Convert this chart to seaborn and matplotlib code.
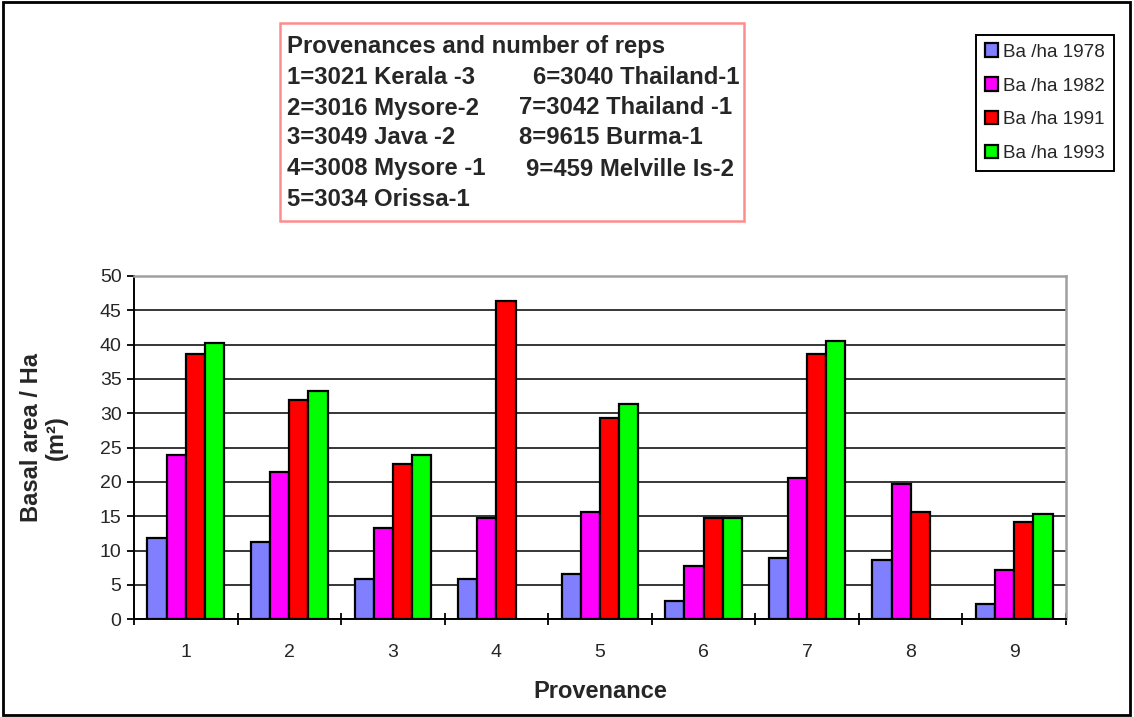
import matplotlib
matplotlib.use("Agg")
import matplotlib.pyplot as plt
from matplotlib.patches import Rectangle
from matplotlib.ticker import FixedLocator, MultipleLocator
import numpy as np
import pandas as pd
import seaborn as sns

# data
provenances = ["1", "2", "3", "4", "5", "6", "7", "8", "9"]
series_names = ["Ba /ha 1978", "Ba /ha 1982", "Ba /ha 1991", "Ba /ha 1993"]
ba_1978 = [11.9, 11.2, 5.8, 5.8, 6.6, 2.6, 9.0, 8.7, 2.3]
ba_1982 = [24.0, 21.4, 13.3, 14.7, 15.6, 7.8, 20.6, 19.7, 7.2]
ba_1991 = [38.6, 31.9, 22.6, 46.4, 29.3, 14.7, 38.6, 15.6, 14.2]
ba_1993 = [40.3, 33.3, 24.0, np.nan, 31.3, 14.7, 40.6, np.nan, 15.3]
colors = ["#8080FF", "#FF00FF", "#FF0000", "#00FF00"]

box_title = "Provenances and number of reps"
left_col = ["1=3021 Kerala -3", "2=3016 Mysore-2", "3=3049 Java -2",
            "4=3008 Mysore -1", "5=3034 Orissa-1"]
right_col = ["6=3040 Thailand-1", "7=3042 Thailand -1", "8=9615 Burma-1",
             "9=459 Melville Is-2"]

df = pd.DataFrame({
    "Provenance": provenances * 4,
    "series": np.repeat(series_names, len(provenances)),
    "value": ba_1978 + ba_1982 + ba_1991 + ba_1993,
})

sns.set_style("white")
plt.rcParams["font.family"] = ["Liberation Sans", "DejaVu Sans"]

W, H = 1134, 717
fig = plt.figure(figsize=(W / 100, H / 100), dpi=100)
ax = fig.add_axes([134 / W, 1 - 619.3 / H, 932 / W, 343.3 / H])

sns.barplot(data=df, x="Provenance", y="value", hue="series",
            palette=colors, width=0.74, gap=0, edgecolor="black",
            linewidth=1.6, saturation=1, errorbar=None, ax=ax, zorder=3)

ax.set_ylim(0, 50)
ax.set_xlim(-0.5, 8.5)
ax.yaxis.set_major_locator(MultipleLocator(5))
ax.grid(axis="y", color="black", linewidth=1.1, zorder=0)
ax.grid(axis="x", visible=False)
ax.set_axisbelow(True)

for side in ["left", "bottom"]:
    ax.spines[side].set_color("black")
    ax.spines[side].set_linewidth(1.4)
for side in ["top", "right"]:
    ax.spines[side].set_color("#A0A0A0")
    ax.spines[side].set_linewidth(1.8)

ax.tick_params(axis="y", direction="out", length=5, width=1.3,
               color="black", labelsize=14, pad=4, left=True)
ax.tick_params(axis="x", which="major", length=0, labelsize=14, pad=18)
ax.xaxis.set_minor_locator(FixedLocator(np.arange(-0.5, 9.0, 1.0)))
ax.tick_params(axis="x", which="minor", direction="inout", length=9,
               width=1.3, color="black", bottom=True)

ax.set_xlabel("Provenance", fontsize=17, fontweight="bold")
ax.xaxis.set_label_coords(0.5, -0.176)
ax.set_ylabel("Basal area / Ha\n(m²)", fontsize=17, fontweight="bold",
              linespacing=1.1)
ax.yaxis.set_label_coords(-0.071, 0.53)

handles, labels = ax.get_legend_handles_labels()
ax.legend(handles, labels, loc="upper left",
          bbox_to_anchor=(976 / W, 1 - 35 / H), bbox_transform=fig.transFigure,
          fontsize=13.6, frameon=True, fancybox=False, edgecolor="black",
          framealpha=1, handlelength=0.7, handleheight=0.7,
          handletextpad=0.3, labelspacing=0.88, borderpad=0.45,
          borderaxespad=0)
ax.get_legend().get_frame().set_linewidth(1.4)

# text box with provenance key
fig.add_artist(Rectangle((280 / W, 1 - 221 / H), 464 / W, 198 / H,
                         transform=fig.transFigure, facecolor="white",
                         edgecolor="#FF8C8C", linewidth=1.8))
fig.text(287 / W, 1 - 46 / H, box_title, fontsize=17.2, fontweight="bold",
         va="center", ha="left")
left_y = [78, 108, 138, 169, 200]
for txt, y in zip(left_col, left_y):
    fig.text(287 / W, 1 - y / H, txt, fontsize=17.2, fontweight="bold",
             va="center", ha="left")
right_x = [533, 519, 519, 526]
for txt, x, y in zip(right_col, right_x, left_y[:4]):
    fig.text(x / W, 1 - y / H, txt, fontsize=17.2, fontweight="bold",
             va="center", ha="left")

# outer chart border
fig.add_artist(Rectangle((3 / W, 2 / H), 1127 / W, 713 / H,
                         transform=fig.transFigure, fill=False,
                         edgecolor="black", linewidth=2))

fig.savefig("out.png", dpi=100)
